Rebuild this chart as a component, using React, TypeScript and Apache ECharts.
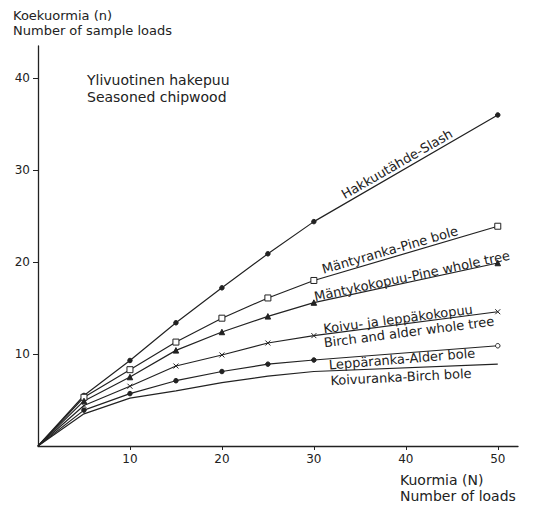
import React, { useEffect, useRef } from "react";
import * as echarts from "echarts";

// Number of loads (N)
const loads = [0, 5, 10, 15, 20, 25, 30, 50];

// Number of sample loads (n) per assortment
const slash = [0, 5.5, 9.3, 13.4, 17.2, 20.9, 24.4, 36.0];
const pineBole = [0, 5.3, 8.3, 11.3, 13.9, 16.1, 18.0, 23.9];
const pineWholeTree = [0, 4.9, 7.5, 10.4, 12.4, 14.1, 15.6, 19.9];
const birchAlderWholeTree = [0, 4.4, 6.5, 8.7, 9.9, 11.2, 12.0, 14.6];
const alderBole = [0, 3.9, 5.7, 7.1, 8.1, 8.9, 9.35, 10.9];
const birchBole = [0, 3.5, 5.2, 6.0, 6.9, 7.6, 8.1, 8.9];

const xTicks = [10, 20, 30, 40, 50];
const yTicks = [10, 20, 30, 40];

const INK = "#222";
const FONT = "'DejaVu Sans', Verdana, sans-serif";
const CROSS = "path://M0,0L10,10M0,10L10,0";

type Sym = { symbol: string; size: number; filled: boolean };

function buildData(ys: number[], mark: (i: number) => Sym | null) {
  return loads.map((x, i) => {
    const m = i === 0 ? null : mark(i);
    if (!m) return { value: [x, ys[i]], symbol: "none" };
    return {
      value: [x, ys[i]],
      symbol: m.symbol,
      symbolSize: m.size,
      itemStyle: {
        color: m.filled ? INK : "#fff",
        borderColor: INK,
        borderWidth: 1,
      },
    };
  });
}

function lineSeries(name: string, ys: number[], mark: (i: number) => Sym | null) {
  return {
    name,
    type: "line",
    data: buildData(ys, mark),
    showSymbol: true,
    lineStyle: { color: INK, width: 1.2 },
    itemStyle: { color: INK },
    emphasis: { disabled: true },
  };
}

function curveLabel(text: string, x: number, y: number, deg: number, size = 13) {
  return {
    type: "text",
    x,
    y,
    rotation: (deg * Math.PI) / 180,
    style: {
      text,
      fill: INK,
      font: `${size}px ${FONT}`,
      align: "center",
      verticalAlign: "middle",
    },
  };
}

function plainText(text: string, x: number, y: number, size = 14) {
  return {
    type: "text",
    x,
    y,
    style: { text, fill: INK, font: `${size}px ${FONT}`, align: "left", verticalAlign: "middle" },
  };
}

export default function App() {
  const ref = useRef<HTMLDivElement>(null);

  useEffect(() => {
    if (!ref.current) return;
    const chart = echarts.init(ref.current, undefined, { renderer: "svg" });
    chart.setOption({
      animation: false,
      backgroundColor: "#fff",
      grid: { left: 38, right: 15, top: 46, bottom: 59, containLabel: false },
      xAxis: {
        type: "value",
        min: 0,
        max: 52.2,
        interval: 10,
        axisLine: { show: true, onZero: false, lineStyle: { color: INK, width: 1.3 } },
        axisTick: { show: true, customValues: xTicks, length: 4, lineStyle: { color: INK } },
        axisLabel: {
          customValues: xTicks,
          color: INK,
          fontSize: 12,
          fontFamily: FONT,
          margin: 7,
        },
        splitLine: { show: false },
      },
      yAxis: {
        type: "value",
        min: 0,
        max: 43.5,
        interval: 10,
        axisLine: { show: true, onZero: false, lineStyle: { color: INK, width: 1.3 } },
        axisTick: { show: true, customValues: yTicks, length: 5, lineStyle: { color: INK } },
        axisLabel: {
          customValues: yTicks,
          color: INK,
          fontSize: 12,
          fontFamily: FONT,
          margin: 8,
        },
        splitLine: { show: false },
      },
      series: [
        lineSeries("Hakkuutähde-Slash", slash, () => ({ symbol: "circle", size: 4.5, filled: true })),
        lineSeries("Mäntyranka-Pine bole", pineBole, () => ({ symbol: "rect", size: 6, filled: false })),
        lineSeries("Mäntykokopuu-Pine whole tree", pineWholeTree, () => ({ symbol: "triangle", size: 5.5, filled: true })),
        lineSeries("Koivu- ja leppäkokopuu / Birch and alder whole tree", birchAlderWholeTree, () => ({
          symbol: CROSS,
          size: 5,
          filled: false,
        })),
        lineSeries("Leppäranka-Alder bole", alderBole, (i) => ({
          symbol: "circle",
          size: 4.5,
          filled: i !== loads.length - 1,
        })),
        lineSeries("Koivuranka-Birch bole", birchBole, () => null),
      ],
      graphic: [
        plainText("Koekuormia (n)", 13, 15, 13),
        plainText("Number of sample loads", 13, 30, 13),
        plainText("Ylivuotinen hakepuu", 87, 80),
        plainText("Seasoned chipwood", 87, 97),
        plainText("Kuormia (N)", 400, 480),
        plainText("Number of loads", 400, 496),
        curveLabel("Hakkuutähde-Slash", 397, 164, 30),
        curveLabel("Mäntyranka-Pine bole", 390, 250, 16),
        curveLabel("Mäntykokopuu-Pine whole tree", 412, 276, 12),
        curveLabel("Koivu- ja leppäkokopuu", 398, 319, 7.5),
        curveLabel("Birch and alder whole tree", 409, 332, 7.3),
        curveLabel("Leppäranka-Alder bole", 402, 359, 4.7),
        curveLabel("Koivuranka-Birch bole", 401, 377, 3),
      ],
    });
    return () => chart.dispose();
  }, []);

  return (
    <div
      ref={ref}
      style={{ position: "fixed", left: 0, top: 0, width: 533, height: 505, background: "#fff" }}
    />
  );
}
